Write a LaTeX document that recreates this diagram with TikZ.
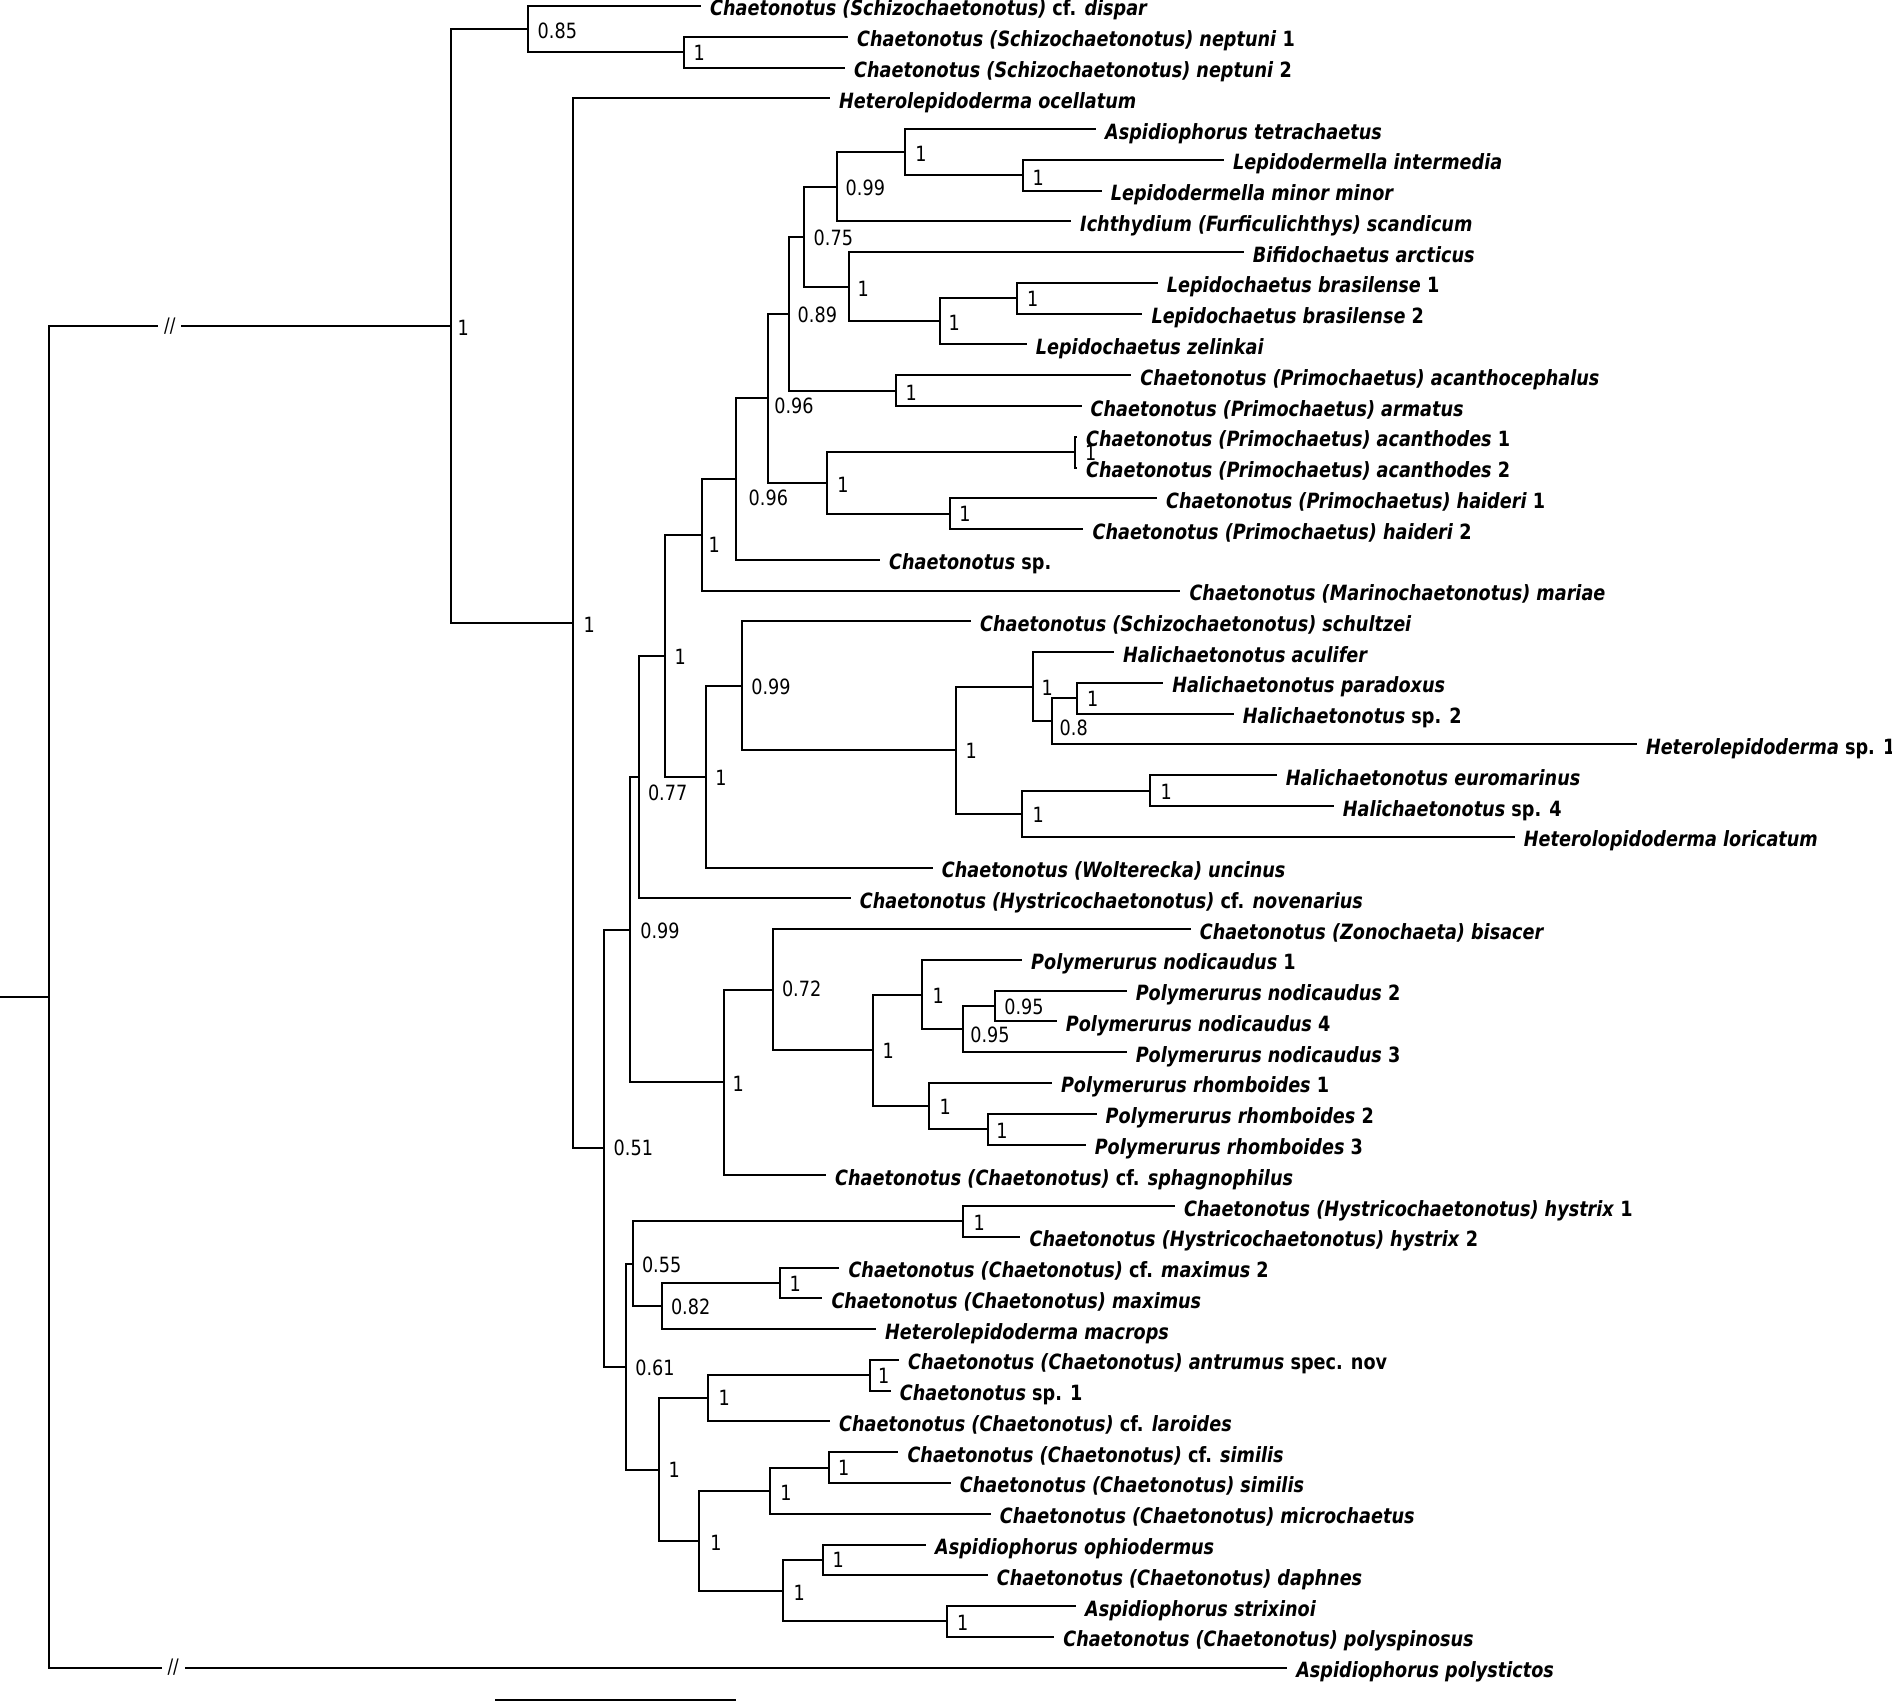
\documentclass[tikz,border=0pt]{standalone}
\usepackage{fontspec}
\setmainfont{DejaVu Sans}[FakeStretch=0.84]
\newcommand{\taxfont}{\fontsize{21}{21}\selectfont\bfseries\itshape}
\newcommand{\numfont}{\fontsize{21}{21}\selectfont}
\newcommand{\cutfont}{\fontsize{20}{20}\selectfont}
\newcommand{\up}[1]{\textup{#1}}

\begin{document}
\begin{tikzpicture}[x=1pt, y=-1pt,
    branch/.style={line width=2pt},
    taxon/.style={anchor=west, inner xsep=9pt, inner ysep=0pt, text height=20pt, text depth=0pt, font=\taxfont},
    support/.style={anchor=west, inner sep=0pt, text height=15.3pt, text depth=0pt, font=\numfont},
    cut/.style={fill=white, inner xsep=6pt, inner ysep=0pt, font=\cutfont}
]
\useasboundingbox (0,0) rectangle (1892,1702);

% Taxa
\node[taxon] (t1) at (701,6) {Chaetonotus (Schizochaetonotus) \up{cf.} dispar};
\node[taxon] (t2) at (848,36.77) {Chaetonotus (Schizochaetonotus) neptuni \up{1}};
\node[taxon] (t3) at (845,67.54) {Chaetonotus (Schizochaetonotus) neptuni \up{2}};
\node[taxon] (t4) at (830,98.31) {Heterolepidoderma ocellatum};
\node[taxon] (t5) at (1096,129.08) {Aspidiophorus tetrachaetus};
\node[taxon] (t6) at (1224,159.85) {Lepidodermella intermedia};
\node[taxon] (t7) at (1101.7,190.62) {Lepidodermella minor minor};
\node[taxon] (t8) at (1071,221.39) {Ichthydium (Furficulichthys) scandicum};
\node[taxon] (t9) at (1243.7,252.16) {Bifidochaetus arcticus};
\node[taxon] (t10) at (1157.7,282.93) {Lepidochaetus brasilense \up{1}};
\node[taxon] (t11) at (1142.3,313.7) {Lepidochaetus brasilense \up{2}};
\node[taxon] (t12) at (1026.7,344.47) {Lepidochaetus zelinkai};
\node[taxon] (t13) at (1131.2,375.24) {Chaetonotus (Primochaetus) acanthocephalus};
\node[taxon] (t14) at (1081.5,406.01) {Chaetonotus (Primochaetus) armatus};
\node[taxon] (t15) at (1077,436.78) {Chaetonotus (Primochaetus) acanthodes \up{1}};
\node[taxon] (t16) at (1077,467.55) {Chaetonotus (Primochaetus) acanthodes \up{2}};
\node[taxon] (t17) at (1157,498.32) {Chaetonotus (Primochaetus) haideri \up{1}};
\node[taxon] (t18) at (1083.4,529.09) {Chaetonotus (Primochaetus) haideri \up{2}};
\node[taxon] (t19) at (880,559.86) {Chaetonotus \up{sp.}};
\node[taxon] (t20) at (1180.3,590.63) {Chaetonotus (Marinochaetonotus) mariae};
\node[taxon] (t21) at (971,621.4) {Chaetonotus (Schizochaetonotus) schultzei};
\node[taxon] (t22) at (1114,652.17) {Halichaetonotus aculifer};
\node[taxon] (t23) at (1163.1,682.94) {Halichaetonotus paradoxus};
\node[taxon] (t24) at (1233.7,713.71) {Halichaetonotus \up{sp. 2}};
\node[taxon] (t25) at (1636.8,744.48) {Heterolepidoderma \up{sp. 1}};
\node[taxon] (t26) at (1276.6,775.25) {Halichaetonotus euromarinus};
\node[taxon] (t27) at (1333.7,806.02) {Halichaetonotus \up{sp. 4}};
\node[taxon] (t28) at (1514.7,836.79) {Heterolopidoderma loricatum};
\node[taxon] (t29) at (932.7,867.56) {Chaetonotus (Wolterecka) uncinus};
\node[taxon] (t30) at (850.7,898.33) {Chaetonotus (Hystricochaetonotus) \up{cf.} novenarius};
\node[taxon] (t31) at (1190.6,929.1) {Chaetonotus (Zonochaeta) bisacer};
\node[taxon] (t32) at (1022,959.87) {Polymerurus nodicaudus \up{1}};
\node[taxon] (t33) at (1126.6,990.64) {Polymerurus nodicaudus \up{2}};
\node[taxon] (t34) at (1056.7,1021.41) {Polymerurus nodicaudus \up{4}};
\node[taxon] (t35) at (1126.6,1052.18) {Polymerurus nodicaudus \up{3}};
\node[taxon] (t36) at (1051.8,1082.95) {Polymerurus rhomboides \up{1}};
\node[taxon] (t37) at (1096.5,1113.72) {Polymerurus rhomboides \up{2}};
\node[taxon] (t38) at (1085.6,1144.49) {Polymerurus rhomboides \up{3}};
\node[taxon] (t39) at (826,1175.26) {Chaetonotus (Chaetonotus) \up{cf.} sphagnophilus};
\node[taxon] (t40) at (1174.9,1206.03) {Chaetonotus (Hystricochaetonotus) hystrix \up{1}};
\node[taxon] (t41) at (1020.4,1236.8) {Chaetonotus (Hystricochaetonotus) hystrix \up{2}};
\node[taxon] (t42) at (839.3,1267.57) {Chaetonotus (Chaetonotus) \up{cf.} maximus \up{2}};
\node[taxon] (t43) at (822.3,1298.34) {Chaetonotus (Chaetonotus) maximus};
\node[taxon] (t44) at (876,1329.11) {Heterolepidoderma macrops};
\node[taxon] (t45) at (899,1359.88) {Chaetonotus (Chaetonotus) antrumus \up{spec. nov}};
\node[taxon] (t46) at (890.7,1390.65) {Chaetonotus \up{sp. 1}};
\node[taxon] (t47) at (830,1421.42) {Chaetonotus (Chaetonotus) \up{cf.} laroides};
\node[taxon] (t48) at (898.3,1452.19) {Chaetonotus (Chaetonotus) \up{cf.} similis};
\node[taxon] (t49) at (950.7,1482.96) {Chaetonotus (Chaetonotus) similis};
\node[taxon] (t50) at (990.7,1513.73) {Chaetonotus (Chaetonotus) microchaetus};
\node[taxon] (t51) at (926,1544.5) {Aspidiophorus ophiodermus};
\node[taxon] (t52) at (987.7,1575.27) {Chaetonotus (Chaetonotus) daphnes};
\node[taxon] (t53) at (1076,1606.04) {Aspidiophorus strixinoi};
\node[taxon] (t54) at (1054.2,1636.81) {Chaetonotus (Chaetonotus) polyspinosus};
\node[taxon] (t55) at (1287.1,1667.58) {Aspidiophorus polystictos};

% Internal nodes
\coordinate (base) at (0,996.88);
\coordinate (root) at (49.4,996.88);
\coordinate (A) at (450.6,326.17);
\coordinate (B) at (527.7,29.08);
\coordinate (C) at (683.8,52.16);
\coordinate (D) at (573.3,623.25);
\coordinate (E) at (604.3,1148.19);
\coordinate (N099b) at (630,929.77);
\coordinate (N077) at (639,777.06);
\coordinate (P) at (665.3,655.78);
\coordinate (N1) at (701.6,534.86);
\coordinate (N096l) at (736,479.09);
\coordinate (N096u) at (768.3,398.32);
\coordinate (N089) at (789.3,313.70);
\coordinate (N075) at (804.3,236.78);
\coordinate (N099) at (837.3,186.78);
\coordinate (N1a) at (905,152.16);
\coordinate (N1b) at (1023.3,175.24);
\coordinate (N1c) at (848.7,286.78);
\coordinate (N1d) at (940,321.39);
\coordinate (N1e) at (1017.3,298.32);
\coordinate (AA) at (895.6,390.63);
\coordinate (Y) at (827,482.94);
\coordinate (Z) at (1075.4,452.17);
\coordinate (HD) at (949.6,513.71);
\coordinate (Q) at (705.7,776.70);
\coordinate (N099c) at (741.7,685.83);
\coordinate (S1) at (955.7,750.25);
\coordinate (S2) at (1032.7,686.79);
\coordinate (N08) at (1051.7,721.40);
\coordinate (S4) at (1077.3,698.33);
\coordinate (S3) at (1022.3,813.71);
\coordinate (S5) at (1149.6,790.64);
\coordinate (R) at (724.3,1082.47);
\coordinate (N072) at (773.3,989.68);
\coordinate (S) at (873.3,1050.26);
\coordinate (T) at (922.3,994.49);
\coordinate (U) at (963.3,1029.10);
\coordinate (V) at (995.3,1006.03);
\coordinate (W) at (929.3,1106.03);
\coordinate (X) at (987.7,1129.10);
\coordinate (F) at (625.7,1366.61);
\coordinate (G) at (633.3,1263.73);
\coordinate (HY) at (963.3,1221.42);
\coordinate (N082) at (662.3,1306.03);
\coordinate (MX) at (780.3,1282.96);
\coordinate (I) at (659,1469.50);
\coordinate (H) at (707.7,1398.34);
\coordinate (AN) at (870,1375.27);
\coordinate (J) at (699.3,1540.65);
\coordinate (K) at (770.3,1490.65);
\coordinate (SM) at (828.7,1467.58);
\coordinate (L) at (783.3,1590.65);
\coordinate (M) at (823.3,1559.89);
\coordinate (N) at (946.7,1621.42);

% Branches
\draw[branch] (base) -- (root);
\draw[branch] (root) |- node[cut, pos=0.65] (cut1) {//} (A);
\draw[branch] (root) |- node[cut, pos=0.55] (cut2) {//} (t55);
\draw[branch] (A) |- (B) (A) |- (D);
\draw[branch] (B) |- (t1) (B) |- (C);
\draw[branch] (C) |- (t2) (C) |- (t3);
\draw[branch] (D) |- (t4) (D) |- (E);
\draw[branch] (E) |- (N099b) (E) |- (F);
\draw[branch] (N099b) |- (N077) (N099b) |- (R);
\draw[branch] (N077) |- (P) (N077) |- (t30);
\draw[branch] (P) |- (N1) (P) |- (Q);
\draw[branch] (N1) |- (N096l) (N1) |- (t20);
\draw[branch] (N096l) |- (N096u) (N096l) |- (t19);
\draw[branch] (N096u) |- (N089) (N096u) |- (Y);
\draw[branch] (N089) |- (N075) (N089) |- (AA);
\draw[branch] (N075) |- (N099) (N075) |- (N1c);
\draw[branch] (N099) |- (N1a) (N099) |- (t8);
\draw[branch] (N1a) |- (t5) (N1a) |- (N1b);
\draw[branch] (N1b) |- (t6) (N1b) |- (t7);
\draw[branch] (N1c) |- (t9) (N1c) |- (N1d);
\draw[branch] (N1d) |- (N1e) (N1d) |- (t12);
\draw[branch] (N1e) |- (t10) (N1e) |- (t11);
\draw[branch] (AA) |- (t13) (AA) |- (t14);
\draw[branch] (Y) |- (Z) (Y) |- (HD);
\draw[branch] (Z) |- (t15) (Z) |- (t16);
\draw[branch] (HD) |- (t17) (HD) |- (t18);
\draw[branch] (Q) |- (N099c) (Q) |- (t29);
\draw[branch] (N099c) |- (t21) (N099c) |- (S1);
\draw[branch] (S1) |- (S2) (S1) |- (S3);
\draw[branch] (S2) |- (t22) (S2) |- (N08);
\draw[branch] (N08) |- (S4) (N08) |- (t25);
\draw[branch] (S4) |- (t23) (S4) |- (t24);
\draw[branch] (S3) |- (S5) (S3) |- (t28);
\draw[branch] (S5) |- (t26) (S5) |- (t27);
\draw[branch] (R) |- (N072) (R) |- (t39);
\draw[branch] (N072) |- (t31) (N072) |- (S);
\draw[branch] (S) |- (T) (S) |- (W);
\draw[branch] (T) |- (t32) (T) |- (U);
\draw[branch] (U) |- (V) (U) |- (t35);
\draw[branch] (V) |- (t33) (V) |- (t34);
\draw[branch] (W) |- (t36) (W) |- (X);
\draw[branch] (X) |- (t37) (X) |- (t38);
\draw[branch] (F) |- (G) (F) |- (I);
\draw[branch] (G) |- (HY) (G) |- (N082);
\draw[branch] (HY) |- (t40) (HY) |- (t41);
\draw[branch] (N082) |- (MX) (N082) |- (t44);
\draw[branch] (MX) |- (t42) (MX) |- (t43);
\draw[branch] (I) |- (H) (I) |- (J);
\draw[branch] (H) |- (AN) (H) |- (t47);
\draw[branch] (AN) |- (t45) (AN) |- (t46);
\draw[branch] (J) |- (K) (J) |- (L);
\draw[branch] (K) |- (SM) (K) |- (t50);
\draw[branch] (SM) |- (t48) (SM) |- (t49);
\draw[branch] (L) |- (M) (L) |- (N);
\draw[branch] (M) |- (t51) (M) |- (t52);
\draw[branch] (N) |- (t53) (N) |- (t54);

% Posterior probabilities
\node[support] (pA) at (457.5,327.5) {1};
\node[support] (pB) at (537.5,30.5) {0.85};
\node[support] (pC) at (693.5,52.5) {1};
\node[support] (pD) at (583.5,624.5) {1};
\node[support] (pE) at (613.5,1148.3) {0.51};
\node[support] (pN099b) at (640.2,931.3) {0.99};
\node[support] (pN077) at (647.8,792.5) {0.77};
\node[support] (pP) at (674.5,657) {1};
\node[support] (pN1) at (708.5,545) {1};
\node[support] (pN096l) at (748.5,497.5) {0.96};
\node[support] (pN096u) at (774.2,405.7) {0.96};
\node[support] (pN089) at (797.5,315) {0.89};
\node[support] (pN075) at (813.5,238) {0.75};
\node[support] (pN099) at (845.5,188.3) {0.99};
\node[support] (pN1a) at (915.2,153.8) {1};
\node[support] (pN1b) at (1032.5,178) {1};
\node[support] (pN1c) at (857.5,288.7) {1};
\node[support] (pN1d) at (948.5,323) {1};
\node[support] (pN1e) at (1026.8,299) {1};
\node[support] (pAA) at (905.5,392.5) {1};
\node[support] (pY) at (837.2,484.7) {1};
\node[support] (pZ) at (1085,452.5) {1};
\node[support] (pHD) at (959.2,514) {1};
\node[support] (pQ) at (715.2,778) {1};
\node[support] (pN099c) at (751.2,686.7) {0.99};
\node[support] (pS1) at (965.5,751.3) {1};
\node[support] (pS2) at (1041.5,687.5) {1};
\node[support] (pN08) at (1059.5,727.5) {0.8};
\node[support] (pS4) at (1086.8,699) {1};
\node[support] (pS3) at (1032.5,815) {1};
\node[support] (pS5) at (1160.5,791.7) {1};
\node[support] (pR) at (732.5,1083.8) {1};
\node[support] (pN072) at (781.8,989.3) {0.72};
\node[support] (pS) at (882.5,1051) {1};
\node[support] (pT) at (932.5,995.8) {1};
\node[support] (pU) at (970.2,1035) {0.95};
\node[support] (pV) at (1004.2,1006.7) {0.95};
\node[support] (pW) at (939.5,1107) {1};
\node[support] (pX) at (996.2,1130.5) {1};
\node[support] (pF) at (635.2,1368) {0.61};
\node[support] (pG) at (641.8,1265) {0.55};
\node[support] (pHY) at (973.5,1222.5) {1};
\node[support] (pN082) at (670.8,1306.7) {0.82};
\node[support] (pMX) at (789.5,1284) {1};
\node[support] (pI) at (668.5,1470) {1};
\node[support] (pH) at (718.5,1398.3) {1};
\node[support] (pAN) at (877.8,1376) {1};
\node[support] (pJ) at (710.2,1542.5) {1};
\node[support] (pK) at (780.2,1492.5) {1};
\node[support] (pSM) at (837.8,1467.5) {1};
\node[support] (pL) at (793.5,1592.5) {1};
\node[support] (pM) at (832.5,1560) {1};
\node[support] (pN) at (956.8,1622.7) {1};

% Scale bar
\coordinate (sb1) at (495,1699.5);
\coordinate (sb2) at (736,1699.5);
\draw[branch] (sb1) -- (sb2);

\end{tikzpicture}
\end{document}
